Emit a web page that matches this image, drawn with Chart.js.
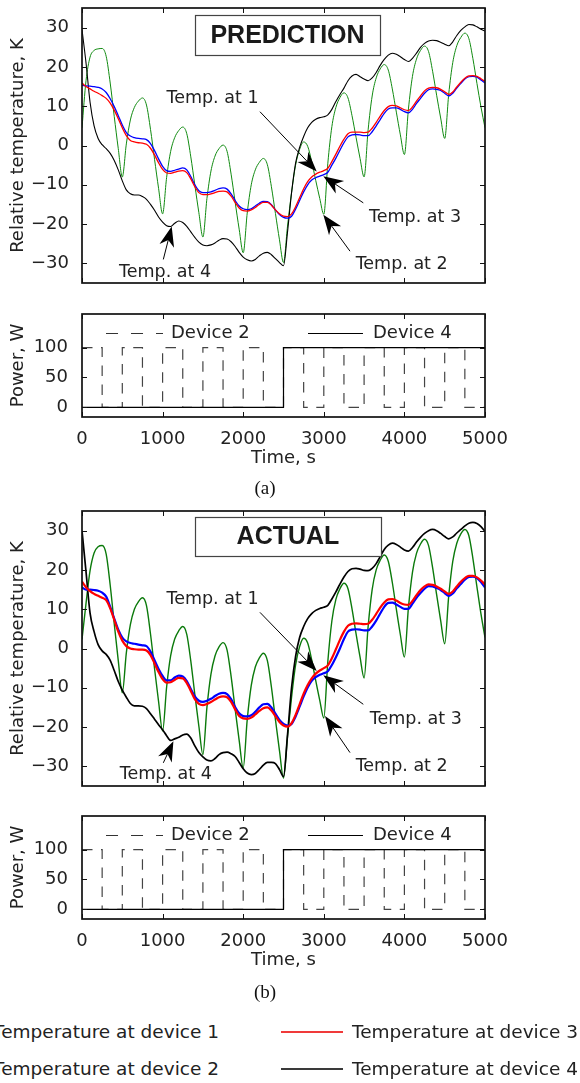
<!DOCTYPE html>
<html><head><meta charset="utf-8">
<script src="https://cdn.jsdelivr.net/npm/chart.js@4.4.1/dist/chart.umd.min.js"></script>
<style>
html,body{margin:0;padding:0;background:#fff;}
body{width:580px;height:1083px;position:relative;overflow:hidden;font-family:'DejaVu Sans',sans-serif;color:#222;}
canvas{position:absolute;left:0;}
.cap{position:absolute;font-family:'Liberation Serif',serif;font-size:19px;line-height:20px;width:60px;text-align:center;left:235px;color:#111;}
.lg{position:absolute;font-size:18.5px;line-height:22px;white-space:nowrap;color:#222;}
.sw{position:absolute;height:2px;}
</style></head><body>
<canvas id="tempPred" width="580" height="290" style="top:0"></canvas>
<canvas id="powerPred" width="580" height="200" style="top:300px"></canvas>
<canvas id="tempAct" width="580" height="290" style="top:503px"></canvas>
<canvas id="powerAct" width="580" height="200" style="top:802px"></canvas>
<div class="cap" style="top:478px">(a)</div>
<div class="cap" style="top:982px">(b)</div>
<div class="lg" style="right:361px;top:1021px">Temperature at device 1</div>
<div class="lg" style="right:361px;top:1058px">Temperature at device 2</div>
<div class="sw" style="left:281px;width:62px;top:1031px;background:#f03a3a"></div>
<div class="sw" style="left:281px;width:62px;top:1068px;background:#3a3a3a"></div>
<div class="lg" style="left:352px;top:1021px">Temperature at device 3</div>
<div class="lg" style="left:352px;top:1058px">Temperature at device 4</div>
<script>
// ---------- data ----------
const times = [
  0,50,100,150,200,250,300,350,400,450,
  500,550,600,650,700,750,800,850,900,950,
  1000,1050,1100,1150,1200,1250,1300,1350,1400,1450,
  1500,1550,1600,1650,1700,1750,1800,1850,1900,1950,
  2000,2050,2100,2150,2200,2250,2300,2350,2400,2450,
  2500,2550,2600,2650,2700,2750,2800,2850,2900,2950,
  3000,3050,3100,3150,3200,3250,3300,3350,3400,3450,
  3500,3550,3600,3650,3700,3750,3800,3850,3900,3950,
  4000,4050,4100,4150,4200,4250,4300,4350,4400,4450,
  4500,4550,4600,4650,4700,4750,4800,4850,4900,4950,
  5000];

// (a) prediction
const predTemp1 = [
  15.3,15.2,15.1,15.0,14.8,14.4,13.5,11.9,9.9,7.6,
  5.2,3.3,2.4,2.0,1.8,1.7,1.5,0.5,-1.3,-3.4,
  -5.3,-6.4,-6.6,-6.3,-6.0,-5.7,-6.2,-7.9,-10.0,-11.5,
  -12.0,-12.0,-11.8,-11.4,-11.0,-10.8,-11.1,-12.3,-14.0,-15.4,
  -16.1,-16.3,-16.1,-15.4,-14.7,-14.2,-14.3,-15.1,-16.4,-17.6,
  -18.3,-18.5,-18.0,-16.2,-14.0,-11.8,-10.0,-8.8,-8.2,-7.8,
  -7.4,-6.8,-5.0,-3.2,-1.2,0.7,2.2,2.7,2.8,2.7,
  2.5,2.5,3.5,5.0,6.6,8.2,9.3,9.6,9.6,9.2,
  8.6,8.3,9.2,10.7,12.0,13.3,14.2,14.4,14.3,14.0,
  13.3,12.6,13.3,14.6,15.8,16.9,17.5,17.6,17.4,16.7,
  15.9];
const predTemp2 = [
  4.5,16.5,22.5,24.2,24.6,24.7,22.7,15.9,7.4,-0.8,
  -8,0.4,6.5,9.7,11.3,12.1,10.3,4.1,-3.5,-10.9,
  -17.4,-8.1,-1.5,2.0,3.8,4.7,3.0,-2.9,-10.1,-17.1,
  -23.3,-13.5,-6.5,-2.7,-0.8,0.1,-1.5,-7.3,-14.4,-21.3,
  -27.3,-17.2,-10.0,-6.2,-4.3,-3.3,-4.9,-10.5,-17.3,-24.0,
  -29.8,-20.5,-12.0,-5.0,-1.0,0.9,-0.2,-4.1,-8.9,-13.5,
  -17.5,-4.5,4.8,9.7,12.2,13.4,12.1,7.6,2.1,-3.3,
  -8,4.0,12.6,17.2,19.5,20.6,19.2,14.4,8.5,2.7,
  -2.3,9.3,17.6,22.0,24.2,25.3,23.9,18.9,12.8,7.0,
  1.8,13.1,21.1,25.4,27.5,28.6,27.2,22.1,15.8,9.8,
  4.5];
const predTemp3 = [
  15.9,15.0,14.4,13.8,13.3,12.7,12.0,10.8,9.0,6.8,
  4.5,2.5,1.3,0.9,0.7,0.6,0.3,-0.7,-2.4,-4.4,
  -6.1,-7.0,-7.1,-6.8,-6.5,-6.4,-6.9,-8.5,-10.5,-12.0,
  -12.5,-12.5,-12.3,-12.0,-11.7,-11.6,-11.8,-12.9,-14.5,-15.9,
  -16.6,-16.7,-16.4,-15.8,-15.0,-14.5,-14.5,-15.2,-16.4,-17.4,
  -18.0,-18.1,-17.4,-15.6,-13.3,-11.0,-9.2,-8.0,-7.3,-6.8,
  -6.4,-5.8,-4.1,-2.2,-0.2,1.6,3.0,3.4,3.4,3.4,
  3.3,3.4,4.4,5.9,7.5,8.9,9.9,10.2,10.1,9.6,
  9.1,8.9,9.8,11.3,12.6,13.9,14.6,14.8,14.7,14.3,
  13.7,13.0,13.6,14.9,16.1,17.1,17.7,17.8,17.6,17.0,
  16.3];
const predTemp4 = [
  29.5,21.0,11.0,5.0,1.8,0.2,-0.8,-2.0,-3.8,-6.2,
  -9.0,-11.3,-12.3,-12.6,-12.6,-13.0,-13.7,-15.0,-16.5,-18.2,
  -19.5,-20.4,-20.6,-19.8,-19.2,-19.6,-20.6,-22.0,-23.4,-24.6,
  -25.3,-25.5,-25.3,-24.8,-24.1,-23.7,-23.8,-24.5,-25.7,-27.2,
  -28.4,-29.1,-29.4,-29.0,-28.1,-27.4,-27.2,-27.8,-28.8,-29.8,
  -30.6,-22.0,-12.0,-4.5,-0.5,2.3,4.5,5.9,6.7,7.1,
  7.3,7.8,9.2,11.2,13.0,14.6,16.5,17.7,18.1,17.5,
  16.9,16.5,17.2,18.6,20.4,21.9,23.0,23.5,23.2,22.6,
  21.9,21.4,22.2,23.5,25.0,26.0,26.6,26.8,26.7,26.3,
  25.8,25.4,26.4,28.0,29.3,30.2,30.8,30.7,30.2,29.6,
  29.1];

// (b) actual
const actTemp1 = [
  15.5,15.0,15.0,14.9,14.7,14.2,13.2,10.6,7.6,4.8,
  2.8,1.8,1.4,1.2,1.0,0.8,0.6,-0.8,-3.0,-5.2,
  -7.0,-8.1,-8.1,-7.4,-6.9,-7.1,-8.3,-10.3,-12.2,-13.3,
  -13.6,-13.3,-12.8,-12.1,-11.5,-11.3,-11.6,-12.9,-14.9,-16.5,
  -17.2,-17.3,-17.0,-16.1,-15.0,-14.2,-14.1,-15.0,-16.6,-18.2,
  -19.2,-19.6,-19.2,-17.3,-14.8,-12.2,-9.9,-8.2,-7.3,-6.7,
  -6.3,-5.8,-4.2,-2.2,0.0,2.4,4.3,4.8,4.9,4.8,
  4.6,4.6,5.6,7.1,8.9,10.6,11.6,11.7,11.2,10.6,
  10.1,10.1,11.4,12.9,14.1,15.2,15.9,15.8,15.4,14.9,
  14.1,13.4,14.0,15.3,16.4,17.5,18.2,18.3,17.9,16.9,
  15.5];
const actTemp2 = [
  2.3,11.5,19.8,24.3,25.9,26.2,24.0,16.1,6.3,-3.1,
  -11.3,-1.1,6.1,10.0,11.9,12.9,10.9,3.7,-5.1,-13.5,
  -21.0,-9.8,-1.8,2.4,4.5,5.6,3.6,-3.2,-11.7,-19.8,
  -27.0,-15.0,-6.5,-1.9,0.4,1.5,-0.4,-7.1,-15.4,-23.4,
  -30.4,-18.1,-9.4,-4.7,-2.4,-1.2,-3.1,-9.8,-18.1,-26.0,
  -33.0,-22.3,-12.4,-4.2,0.5,2.6,1.4,-2.9,-8.2,-13.2,
  -17.7,-3.3,7.0,12.5,15.2,16.6,15.2,10.1,3.8,-2.2,
  -7.5,5.6,15.0,20.0,22.5,23.8,22.2,16.8,10.0,3.5,
  -2.2,10.4,19.4,24.2,26.6,27.8,26.2,20.6,13.7,7.1,
  1.2,13.4,22.2,26.8,29.2,30.3,28.7,22.9,15.7,8.8,
  2.8];
const actTemp3 = [
  17.0,15.6,14.6,13.9,13.4,12.9,12.3,10.2,7.3,4.3,
  2.0,0.6,0.0,-0.2,-0.3,-0.3,-0.5,-1.7,-3.8,-6.0,
  -7.8,-8.7,-8.6,-8.0,-7.5,-7.6,-8.8,-10.8,-12.9,-14.1,
  -14.4,-14.1,-13.6,-13.0,-12.4,-12.2,-12.4,-13.6,-15.5,-17.2,
  -17.8,-17.9,-17.6,-16.8,-15.9,-15.2,-15.0,-15.8,-17.2,-18.7,
  -19.6,-19.9,-19.0,-16.9,-14.2,-11.5,-9.3,-7.6,-6.4,-5.6,
  -5.0,-4.3,-2.5,-0.2,2.2,4.3,5.8,6.3,6.4,6.3,
  6.2,6.3,7.3,8.8,10.4,11.7,12.5,12.6,12.2,11.6,
  11.2,11.1,12.1,13.6,14.9,15.8,16.3,16.2,15.8,15.2,
  14.5,13.9,14.5,15.8,17.0,17.9,18.5,18.5,18.1,17.3,
  16.3];
const actTemp4 = [
  30.0,19.5,9.0,4.3,1.0,-0.6,-1.5,-3.0,-5.6,-8.4,
  -10.6,-12.4,-14.0,-14.6,-14.6,-14.7,-15.3,-16.6,-18.0,-19.4,
  -20.7,-22.2,-23.4,-23.0,-22.6,-22.0,-21.8,-22.8,-24.8,-26.5,
  -27.6,-28.4,-28.6,-28.0,-27.0,-26.5,-26.4,-26.8,-27.5,-29.0,
  -30.6,-31.7,-32.1,-31.8,-30.8,-29.7,-29.0,-29.0,-29.3,-30.8,
  -32.6,-22.0,-10.0,-2.0,2.8,5.6,7.6,8.9,9.7,10.2,
  10.5,11.0,12.6,14.4,16.4,18.2,19.6,20.3,20.4,20.2,
  19.9,19.8,20.4,21.6,23.4,25.2,26.3,26.8,26.5,25.8,
  25.1,24.8,25.7,27.1,28.3,29.3,30.0,30.3,30.0,29.3,
  28.5,27.9,28.4,29.4,30.3,31.2,31.9,32.1,31.8,31.0,
  29.8];

// power (step switching times)
const powerTimes = [0,250,500,750,1000,1250,1500,1750,2000,2250,2500,2750,3000,3250,3500,3750,4000,4250,4500,4750,5000];
const predPower2 = [100,0,100,0,100,0,100,0,100,0,100,0,100,0,100,0,100,0,100,0,0];
const actPower2  = [100,0,100,0,100,0,100,0,100,0,100,0,100,0,100,0,100,0,100,0,0];
const device4Times = [0,2500,5000];
const predPower4 = [0,100,100];
const actPower4  = [0,100,100];

const tempTicks = [-30,-20,-10,0,10,20,30];
const timeTicks = [0,1000,2000,3000,4000,5000];
const powerTicks = [0,50,100];

// ---------- annotations (data coordinates) ----------
const notesPred = [
  {text:'Temp. at 1', tx:1619, ty:12.1, lx:2208, ly:8.6, ax:2912, ay:-6.6},
  {text:'Temp. at 3', tx:4132, ty:-18.3, lx:3490, ly:-14.6, ax:2994, ay:-7.8},
  {text:'Temp. at 2', tx:3966, ty:-30.3, lx:3325, ly:-26.9, ax:2994, ay:-17.6},
  {text:'Temp. at 4', tx:1030, ty:-32.3, lx:1009, ly:-29.0, ax:1113, ay:-20.6}
];
const notesAct = [
  {text:'Temp. at 1', tx:1619, ty:12.6, lx:2208, ly:9.2, ax:2912, ay:-5.7},
  {text:'Temp. at 3', tx:4141, ty:-18.0, lx:3490, ly:-14.2, ax:2994, ay:-6.8},
  {text:'Temp. at 2', tx:3966, ty:-30.0, lx:3325, ly:-26.5, ax:3015, ay:-17.2},
  {text:'Temp. at 4', tx:1040, ty:-32.0, lx:1009, ly:-29.1, ax:1134, ay:-23.6}
];
const boxPred = {text:'PREDICTION', x0:1400, x1:3700, y0:33.3, y1:23.1};
const boxAct  = {text:'ACTUAL', x0:1400, x1:3706, y0:33.5, y1:23.5};
const powerLegend = {y:124, d0:298, d1:1005, t2:1104, s0:2804, s1:3486, t4:3610};

// ---------- drawing ----------
Chart.defaults.font.family = "'DejaVu Sans', sans-serif";
Chart.defaults.color = '#222';
const minus = v => String(v).replace('-', '\u2212');

function drawArrow(ctx, x0, y0, x1, y1) {
  const ang = Math.atan2(y1 - y0, x1 - x0), L = 20, W = 7.5, N = 6;
  const c = Math.cos(ang), s = Math.sin(ang);
  const bx = x1 - L * c, by = y1 - L * s;
  const nx = x1 - (L - N) * c, ny = y1 - (L - N) * s;
  ctx.beginPath(); ctx.moveTo(x0, y0); ctx.lineTo(nx, ny); ctx.stroke();
  ctx.beginPath(); ctx.moveTo(x1, y1);
  ctx.lineTo(bx - W * s, by + W * c);
  ctx.lineTo(nx, ny);
  ctx.lineTo(bx + W * s, by - W * c);
  ctx.closePath(); ctx.fill();
}

const framePlugin = {
  id: 'frame',
  afterDraw(chart, args, o) {
    const {ctx, chartArea: a, scales: {x, y}} = chart;
    const X = v => x.getPixelForValue(v), Y = v => y.getPixelForValue(v);
    ctx.save();
    ctx.strokeStyle = '#111'; ctx.lineWidth = 1;
    ctx.beginPath();
    for (const t of x.ticks) { const p = Math.round(X(t.value)) + 0.5; ctx.moveTo(p, a.bottom); ctx.lineTo(p, a.bottom - 5); ctx.moveTo(p, a.top); ctx.lineTo(p, a.top + 5); }
    for (const t of y.ticks) { const p = Math.round(Y(t.value)) + 0.5; ctx.moveTo(a.left, p); ctx.lineTo(a.left + 5, p); ctx.moveTo(a.right, p); ctx.lineTo(a.right - 5, p); }
    ctx.stroke();
    ctx.lineWidth = 1.7;
    ctx.strokeRect(a.left, a.top, a.width, a.height);
    if (o.box) {
      const b = o.box, x0 = Math.round(X(b.x0)), x1 = Math.round(X(b.x1)), y0 = Math.round(Y(b.y0)), y1 = Math.round(Y(b.y1));
      ctx.fillStyle = '#fff'; ctx.fillRect(x0, y0, x1 - x0, y1 - y0);
      ctx.strokeStyle = '#444'; ctx.lineWidth = 1.2; ctx.strokeRect(x0 + 0.5, y0 + 0.5, x1 - x0, y1 - y0);
      ctx.fillStyle = '#1a1a1a'; ctx.font = "bold 25px 'Liberation Sans', Arial, sans-serif";
      ctx.textAlign = 'center'; ctx.textBaseline = 'middle';
      ctx.fillText(b.text, (x0 + x1) / 2, (y0 + y1) / 2 + 1);
    }
    if (o.notes) {
      for (const n of o.notes) {
        ctx.strokeStyle = '#000'; ctx.fillStyle = '#000'; ctx.lineWidth = 1;
        drawArrow(ctx, X(n.lx), Y(n.ly), X(n.ax), Y(n.ay));
        ctx.fillStyle = '#222'; ctx.font = "17.5px 'DejaVu Sans', sans-serif";
        ctx.textAlign = 'center'; ctx.textBaseline = 'middle';
        ctx.fillText(n.text, X(n.tx), Y(n.ty));
      }
    }
    if (o.legend) {
      const L = o.legend, yy = Math.round(Y(L.y)) + 0.5;
      ctx.lineWidth = 1.2;
      ctx.strokeStyle = '#333'; ctx.setLineDash([12, 13]);
      ctx.beginPath(); ctx.moveTo(X(L.d0), yy); ctx.lineTo(X(L.d1), yy); ctx.stroke();
      ctx.setLineDash([]); ctx.strokeStyle = '#000';
      ctx.beginPath(); ctx.moveTo(X(L.s0), yy); ctx.lineTo(X(L.s1), yy); ctx.stroke();
      ctx.fillStyle = '#222'; ctx.font = "18px 'DejaVu Sans', sans-serif";
      ctx.textAlign = 'left'; ctx.textBaseline = 'middle';
      ctx.fillText('Device 2', X(L.t2), yy);
      ctx.fillText('Device 4', X(L.t4), yy);
    }
    ctx.restore();
  }
};

const pts = (xs, ys) => xs.map((t, i) => ({x: t, y: ys[i]}));
const noPadV = s => { s.paddingTop = 0; s.paddingBottom = 0; };
const noPadH = s => { s.paddingLeft = 0; s.paddingRight = 0; };

function tempChart(id, s1, s2, s3, s4, notes, box, wide) {
  return new Chart(document.getElementById(id), {
    type: 'line',
    data: {datasets: [
      {data: pts(times, s3), borderColor: '#ff0000', borderWidth: wide ? 2.2 : 1.3, cubicInterpolationMode: 'monotone', pointRadius: 0},
      {data: pts(times, s1), borderColor: '#0000ff', borderWidth: wide ? 2.2 : 1.3, cubicInterpolationMode: 'monotone', pointRadius: 0},
      {data: pts(times, s4), borderColor: '#000000', borderWidth: wide ? 1.7 : 1.1, cubicInterpolationMode: 'monotone', pointRadius: 0},
      {data: pts(times, s2), borderColor: wide ? '#0b7a0b' : '#108a10', borderWidth: wide ? 1.4 : 1.0, cubicInterpolationMode: 'monotone', pointRadius: 0}
    ]},
    options: {
      responsive: false, animation: false, devicePixelRatio: 1,
      layout: {padding: {top: 8, right: 95, bottom: 7, left: 0}},
      plugins: {legend: {display: false}, tooltip: {enabled: false}, frame: {notes: notes, box: box}},
      scales: {
        x: {type: 'linear', min: 0, max: 5000, grid: {display: false}, border: {display: false},
            ticks: {display: false},
            afterBuildTicks: s => { s.ticks = timeTicks.map(v => ({value: v})); },
            afterFit: s => { s.height = 0; noPadH(s); }},
        y: {type: 'linear', min: -35, max: 35, grid: {display: false}, border: {display: false},
            ticks: {font: {size: 18}, padding: 5, color: '#222', callback: v => minus(v)},
            afterBuildTicks: s => { s.ticks = tempTicks.map(v => ({value: v})); },
            afterFit: s => { s.width = 82; noPadV(s); },
            title: {display: true, text: 'Relative temperature, K', font: {size: 18}, color: '#222', padding: {top: 8, bottom: 0}}}
      }
    },
    plugins: [framePlugin]
  });
}

function powerChart(id, p2, p4) {
  return new Chart(document.getElementById(id), {
    type: 'line',
    data: {datasets: [
      {data: pts(device4Times, p4), borderColor: '#000', borderWidth: 1.2, stepped: true, pointRadius: 0},
      {data: pts(powerTimes, p2), borderColor: '#444', borderWidth: 1.2, borderDash: [10.5, 8.5], stepped: true, pointRadius: 0}
    ]},
    options: {
      responsive: false, animation: false, devicePixelRatio: 1,
      layout: {padding: {top: 14, right: 95, bottom: 0, left: 0}},
      plugins: {legend: {display: false}, tooltip: {enabled: false}, frame: {legend: powerLegend}},
      scales: {
        x: {type: 'linear', min: 0, max: 5000, grid: {display: false}, border: {display: false},
            ticks: {font: {size: 18}, padding: 4, color: '#222', maxRotation: 0, autoSkip: false, callback: v => String(v)},
            afterBuildTicks: s => { s.ticks = timeTicks.map(v => ({value: v})); },
            afterFit: s => { s.height = 83; noPadH(s); },
            title: {display: true, text: 'Time, s', font: {size: 18}, color: '#222', padding: {top: 0, bottom: 31}}},
        y: {type: 'linear', min: -16, max: 156, grid: {display: false}, border: {display: false},
            ticks: {font: {size: 18}, padding: 6, color: '#222'},
            afterBuildTicks: s => { s.ticks = powerTicks.map(v => ({value: v})); },
            afterFit: s => { s.width = 82; noPadV(s); },
            title: {display: true, text: 'Power, W', font: {size: 18}, color: '#222', padding: {top: 8, bottom: 0}}}
      }
    },
    plugins: [framePlugin]
  });
}

tempChart('tempPred', predTemp1, predTemp2, predTemp3, predTemp4, notesPred, boxPred, false);
powerChart('powerPred', predPower2, predPower4);
tempChart('tempAct', actTemp1, actTemp2, actTemp3, actTemp4, notesAct, boxAct, true);
powerChart('powerAct', actPower2, actPower4);
</script>
</body></html>
